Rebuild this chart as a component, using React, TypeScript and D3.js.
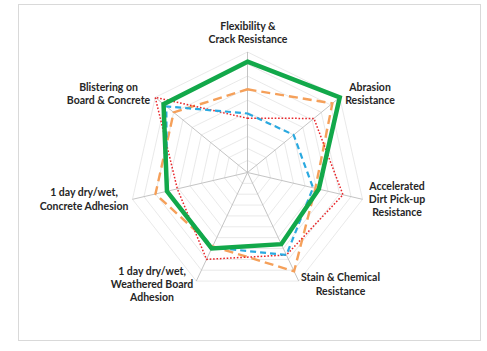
import React from "react";
import * as d3 from "d3";

const categories: string[][] = [
  ["Flexibility &", "Crack Resistance"],
  ["Abrasion", "Resistance"],
  ["Accelerated", "Dirt Pick-up", "Resistance"],
  ["Stain & Chemical", "Resistance"],
  ["1 day dry/wet,", "Weathered Board", "Adhesion"],
  ["1 day dry/wet,", "Concrete Adhesion"],
  ["Blistering on", "Board & Concrete"],
];

const seriesOrange = [6.9, 9.2, 5.9, 9.1, 6.8, 8.0, 8.0];
const seriesRed = [4.5, 7.2, 8.3, 7.6, 8.0, 6.1, 10.0];
const seriesBlue = [4.9, 5.0, 5.7, 7.6, 6.9, 7.0, 8.8];
const seriesGreen = [9.2, 10.0, 6.2, 6.6, 7.0, 7.0, 9.1];

const ringValues = [1, 2, 3, 4, 5, 6, 7, 8, 9, 10];

// label anchor points (text centers) in pixels
const labelX = [248, 370, 397, 340.5, 152, 84, 108.5];
const labelY = [26, 87.3, 186, 277.7, 271, 192.7, 87.3];

const W = 487;
const H = 351;
const cx = 247.5;
const cy = 172.5;

const rX = d3.scaleLinear().domain([0, 10]).range([0, 118]);
const rY = d3.scaleLinear().domain([0, 10]).range([0, 120.5]);
const angle = d3
  .scaleLinear()
  .domain([0, categories.length])
  .range([0, 2 * Math.PI]);

function pt(i: number, v: number): [number, number] {
  const a = angle(i);
  return [cx + rX(v) * Math.sin(a), cy - rY(v) * Math.cos(a)];
}

const closedLine = d3
  .line<[number, number]>()
  .x((d) => d[0])
  .y((d) => d[1])
  .curve(d3.curveLinearClosed);

function pathFor(vals: number[]) {
  return closedLine(vals.map((v, i) => pt(i, v))) || "";
}

export default function App() {
  const n = categories.length;
  return (
    <svg
      width={W}
      height={H}
      style={{ position: "absolute", left: 0, top: 0, background: "#fff" }}
      fontFamily="Lato, 'Open Sans', sans-serif"
    >
      <rect x={0} y={0} width={W} height={H} fill="#fff" />
      <rect
        x={18.5}
        y={4.5}
        width={462}
        height={336}
        fill="#fff"
        stroke="#d9d9d9"
        strokeWidth={1}
      />
      {ringValues.map((rv) => (
        <path
          key={"ring" + rv}
          d={closedLine(d3.range(n).map((i) => pt(i, rv))) || ""}
          fill="none"
          stroke="#e3e3e3"
          strokeWidth={0.8}
        />
      ))}
      {d3.range(n).map((i) => {
        const [x, y] = pt(i, 10);
        return (
          <line
            key={"spoke" + i}
            x1={cx}
            y1={cy}
            x2={x}
            y2={y}
            stroke="#bdbdbd"
            strokeWidth={0.9}
          />
        );
      })}
      <path
        d={pathFor(seriesOrange)}
        fill="none"
        stroke="#f5a05a"
        strokeWidth={2.4}
        strokeDasharray="9,5"
      />
      <path
        d={pathFor(seriesRed)}
        fill="none"
        stroke="#e8262a"
        strokeWidth={1.5}
        strokeDasharray="1.6,1.8"
      />
      <path
        d={pathFor(seriesBlue)}
        fill="none"
        stroke="#2aa9e0"
        strokeWidth={2.2}
        strokeDasharray="6,4"
      />
      <path
        d={pathFor(seriesGreen)}
        fill="none"
        stroke="#12a84a"
        strokeWidth={4.5}
        strokeLinejoin="miter"
      />
      {categories.map((lines, i) => {
        const h = 13.3;
        return (
          <text
            key={"lab" + i}
            x={labelX[i]}
            y={labelY[i]}
            textAnchor="middle"
            fontSize={10.5}
            fontWeight={700}
            fill="#262626"
          >
            {lines.map((t, j) => (
              <tspan key={j} x={labelX[i]} y={labelY[i] + j * h} dy="0.35em">
                {t}
              </tspan>
            ))}
          </text>
        );
      })}
    </svg>
  );
}
